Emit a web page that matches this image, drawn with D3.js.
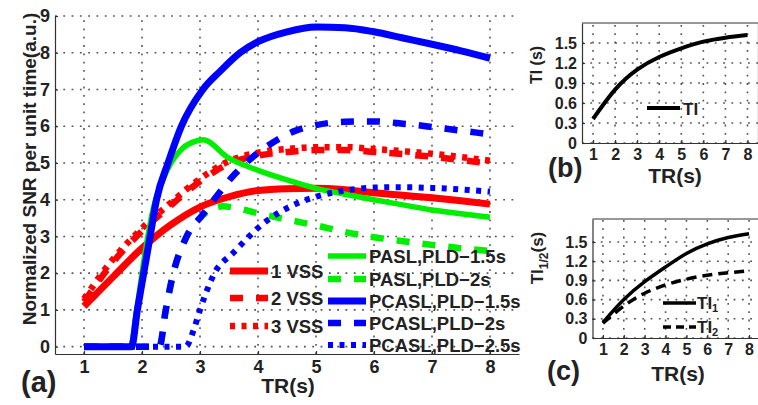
<!DOCTYPE html>
<html>
<head>
<meta charset="utf-8" />
<script src="https://cdn.jsdelivr.net/npm/d3@7/dist/d3.min.js"></script>
<style>
  body { margin: 0; background: #fff; }
  text { font-family: "Liberation Sans", Arial, sans-serif; font-weight: bold; fill: #222; }
  .grid line { stroke: #555; stroke-width: 1.6; stroke-dasharray: 1.8, 6.5; }
</style>
</head>
<body>
<svg width="758" height="405"></svg>
<script>
// ---- panel (a): normalized SNR per unit time, [TR, value]
const vss1 = [[1,1.1],[1.5,1.9],[2,2.68],[2.5,3.32],[3,3.8],[3.5,4.08],[4,4.25],[4.5,4.3],[5,4.31],[5.5,4.27],[6,4.19],[6.5,4.12],[7,4.05],[7.5,3.97],[8,3.88]];
const vss2 = [[1,1.22],[1.5,2.3],[2,3.15],[2.5,3.85],[3,4.5],[3.5,4.98],[4,5.2],[4.5,5.3],[5,5.35],[5.5,5.35],[6,5.3],[6.5,5.24],[7,5.17],[7.5,5.08],[8,4.98]];
const vss3 = [[1,1.3],[1.5,2.38],[2,3.22],[2.5,3.92],[3,4.57],[3.5,5.05],[4,5.28],[4.5,5.38],[5,5.43],[5.5,5.43],[6,5.38],[6.5,5.32],[7,5.25],[7.5,5.16],[8,5.06]];
const pasl15 = [[1,0],[1.8,0],[1.9,0.9],[2,2],[2.1,3],[2.2,3.8],[2.35,4.5],[2.5,5],[2.7,5.4],[2.9,5.58],[3.05,5.63],[3.5,5.13],[4,4.8],[4.5,4.54],[5,4.31],[5.5,4.15],[6,4],[6.5,3.86],[7,3.72],[7.5,3.62],[8,3.52]];
const pasl2 = [[1,0],[2.3,0],[2.41,1],[2.54,2],[2.77,3],[3,3.5],[3.2,3.75],[3.4,3.82],[3.6,3.78],[4,3.63],[4.5,3.46],[5,3.3],[5.5,3.12],[6,2.98],[6.5,2.87],[7,2.77],[7.5,2.68],[8,2.6]];
const pcasl15 = [[1,0],[1.82,0],[1.92,1],[2.03,2],[2.14,3],[2.25,4],[2.45,5],[2.68,6],[3.05,7],[3.35,7.5],[3.69,8],[4,8.3],[4.5,8.57],[5,8.7],[5.5,8.68],[6,8.57],[6.5,8.4],[7,8.23],[7.5,8.05],[8,7.85]];
const pcasl2 = [[1,0],[2.3,0],[2.41,1],[2.54,2],[2.77,3],[3.05,3.6],[3.28,4.08],[3.6,4.7],[3.9,5.15],[4.25,5.55],[4.65,5.88],[5,6.03],[5.5,6.12],[6,6.13],[6.5,6.07],[7,5.98],[7.5,5.88],[8,5.78]];
const pcasl25 = [[1,0],[2.75,0],[2.9,0.5],[3,1],[3.1,1.45],[3.25,2],[3.57,2.55],[4.09,3.35],[4.6,3.85],[5,4.08],[5.5,4.25],[6,4.33],[6.5,4.34],[7,4.32],[7.5,4.28],[8,4.22]];
const mainLabels = ["1 VSS","2 VSS","3 VSS","PASL,PLD\u22121.5s","PASL,PLD\u22122s","PCASL,PLD\u22121.5s","PCASL,PLD\u22122s","PCASL,PLD\u22122.5s"];
const mainXTicks = [1,2,3,4,5,6,7,8];
const mainYTicks = [0,1,2,3,4,5,6,7,8,9];

// ---- panels (b), (c): inversion times
const trSmall = [1,2,3,4,5,6,7,8];
const ti  = [0.36,0.8,1.1,1.29,1.42,1.52,1.58,1.62];
const ti1 = [0.24,0.6,0.88,1.11,1.32,1.47,1.57,1.63];
const ti2 = [0.23,0.5,0.7,0.83,0.92,0.98,1.02,1.05];
const smallYTicks = [0,0.3,0.6,0.9,1.2,1.5];

const svg = d3.select("svg");
svg.append("rect").attr("width", 758).attr("height", 405).attr("fill", "#fff");

// styles per series
const RED = "#ff0000", GREEN = "#00ee00", BLUE = "#0000ff";
const series = [
  { data: vss1, color: RED, w: 7, dash: null },
  { data: vss2, color: RED, w: 6.5, dash: "13,13" },
  { data: vss3, color: RED, w: 6.5, dash: "5,6.5" },
  { data: pasl15, color: GREEN, w: 5.5, dash: null },
  { data: pasl2, color: GREEN, w: 6.5, dash: "13,13" },
  { data: pcasl15, color: BLUE, w: 7, dash: null },
  { data: pcasl2, color: BLUE, w: 6.5, dash: "13,13" },
  { data: pcasl25, color: BLUE, w: 6, dash: "5,6.5" }
];

function grid(g, x, y, xt, yt) {
  const gg = g.append("g").attr("class", "grid");
  const [x0, x1] = x.range(), [y0, y1] = y.range();
  gg.selectAll(".gx").data(xt).enter().append("line")
    .attr("x1", d => x(d)).attr("x2", d => x(d)).attr("y1", y0).attr("y2", y1);
  gg.selectAll(".gy").data(yt).enter().append("line")
    .attr("y1", d => y(d)).attr("y2", d => y(d)).attr("x1", x0).attr("x2", x1);
}

function axes(g, x, y, xt, yt, fs, fmt, box) {
  const ax = d3.axisBottom(x).tickValues(xt).tickSizeInner(-3).tickSizeOuter(0).tickPadding(6);
  const ay = d3.axisLeft(y).tickValues(yt).tickSizeInner(-3).tickSizeOuter(0).tickPadding(5).tickFormat(fmt);
  const gx = g.append("g").attr("transform", `translate(0,${y.range()[0]})`).call(ax);
  const gy = g.append("g").attr("transform", `translate(${x.range()[0]},0)`).call(ay);
  [gx, gy].forEach(a => {
    a.selectAll("path, line").attr("stroke", "#333").attr("stroke-width", 1.2);
    a.selectAll("text").attr("font-size", fs).attr("fill", "#222")
      .attr("font-family", "'Liberation Sans', Arial, sans-serif").attr("font-weight", "bold");
  });
  if (box) {
    g.append("path").attr("fill", "none").attr("stroke", "#333").attr("stroke-width", 1.2)
      .attr("d", `M${x.range()[0]},${y.range()[1]}H${x.range()[1]}V${y.range()[0]}`);
  }
}

// ================= panel (a)
const xa = d3.scaleLinear().domain([0.5, 8.5]).range([55, 519]);
const ya = d3.scaleLinear().domain([-0.2, 9]).range([354, 16]);
const ga = svg.append("g");
grid(ga, xa, ya, mainXTicks, mainYTicks);

const lineA = d3.line().x(d => xa(d[0])).y(d => ya(d[1])).curve(d3.curveMonotoneX);
series.forEach(s => {
  ga.append("path").attr("d", lineA(s.data)).attr("fill", "none")
    .attr("stroke", s.color).attr("stroke-width", s.w)
    .attr("stroke-dasharray", s.dash).attr("stroke-linejoin", "round");
});
axes(ga, xa, ya, mainXTicks, mainYTicks, 18, d3.format("d"), false);

// legend for (a): two columns
const legPos = [
  { x: 230, y: 271 }, { x: 230, y: 298 }, { x: 230, y: 326 },
  { x: 328, y: 256 }, { x: 328, y: 279 }, { x: 328, y: 301 }, { x: 328, y: 323 }, { x: 328, y: 345 }
];
series.forEach((s, i) => {
  const p = legPos[i];
  ga.append("line").attr("x1", p.x).attr("x2", p.x + 38).attr("y1", p.y).attr("y2", p.y)
    .attr("stroke", s.color).attr("stroke-width", s.w).attr("stroke-dasharray", s.dash);
  ga.append("text").attr("x", p.x + 41).attr("y", p.y + 6.5).attr("font-size", 18.5).text(mainLabels[i]);
});

svg.append("text").attr("transform", "translate(36,169) rotate(-90)")
  .attr("text-anchor", "middle").attr("font-size", 19).text("Normalized SNR per unit time(a.u.)");
svg.append("text").attr("x", 288).attr("y", 393).attr("text-anchor", "middle").attr("font-size", 21).text("TR(s)");
svg.append("text").attr("x", 21).attr("y", 392).attr("font-size", 29).text("(a)");

// ================= panel (b)
const xb = d3.scaleLinear().domain([0.5, 8.5]).range([582, 758.5]);
const yb = d3.scaleLinear().domain([0, 1.8]).range([143, 23]);
const gb = svg.append("g");
grid(gb, xb, yb, trSmall, smallYTicks);
const lineB = d3.line().x((d, i) => xb(trSmall[i])).y(d => yb(d)).curve(d3.curveNatural);
gb.append("path").attr("d", lineB(ti)).attr("fill", "none").attr("stroke", "#000").attr("stroke-width", 4);
axes(gb, xb, yb, trSmall, smallYTicks, 16, d => d === 0 ? "0" : d3.format(".1f")(d), true);
gb.append("line").attr("x1", 647).attr("x2", 680).attr("y1", 108).attr("y2", 108).attr("stroke", "#000").attr("stroke-width", 4);
gb.append("text").attr("x", 683).attr("y", 114.5).attr("font-size", 17).text("TI");
svg.append("text").attr("transform", "translate(542,65) rotate(-90)").attr("text-anchor", "middle").attr("font-size", 16).text("TI (s)");
svg.append("text").attr("x", 675).attr("y", 183).attr("text-anchor", "middle").attr("font-size", 21).text("TR(s)");
svg.append("text").attr("x", 548).attr("y", 177).attr("font-size", 27).text("(b)");

// ================= panel (c)
const xc = d3.scaleLinear().domain([0.5, 8.5]).range([592.5, 759.5]);
const yc = d3.scaleLinear().domain([0, 1.86]).range([338, 219]);
const gc = svg.append("g");
grid(gc, xc, yc, trSmall, smallYTicks);
const lineC = d3.line().x((d, i) => xc(trSmall[i])).y(d => yc(d)).curve(d3.curveNatural);
gc.append("path").attr("d", lineC(ti1)).attr("fill", "none").attr("stroke", "#000").attr("stroke-width", 3.5);
gc.append("path").attr("d", lineC(ti2)).attr("fill", "none").attr("stroke", "#000").attr("stroke-width", 3.5).attr("stroke-dasharray", "10,6");
axes(gc, xc, yc, trSmall, smallYTicks, 16, d => d === 0 ? "0" : d3.format(".1f")(d), true);
const legC = [{ y: 303, dash: null, sub: "1" }, { y: 327, dash: "8,5", sub: "2" }];
legC.forEach(l => {
  gc.append("line").attr("x1", 663).attr("x2", 696).attr("y1", l.y).attr("y2", l.y)
    .attr("stroke", "#000").attr("stroke-width", 3.5).attr("stroke-dasharray", l.dash);
  const t = gc.append("text").attr("x", 697).attr("y", l.y + 6).attr("font-size", 17);
  t.append("tspan").text("TI");
  t.append("tspan").attr("font-size", 11).attr("dy", 3).text(l.sub);
});
const yl = svg.append("text").attr("transform", "translate(543,258) rotate(-90)").attr("text-anchor", "middle").attr("font-size", 17);
yl.append("tspan").text("TI");
yl.append("tspan").attr("font-size", 12).attr("dy", 5).text("1/2");
yl.append("tspan").attr("dy", -5).text("(s)");
svg.append("text").attr("x", 678).attr("y", 381).attr("text-anchor", "middle").attr("font-size", 21).text("TR(s)");
svg.append("text").attr("x", 547).attr("y", 380).attr("font-size", 27).text("(c)");
</script>
</body>
</html>
